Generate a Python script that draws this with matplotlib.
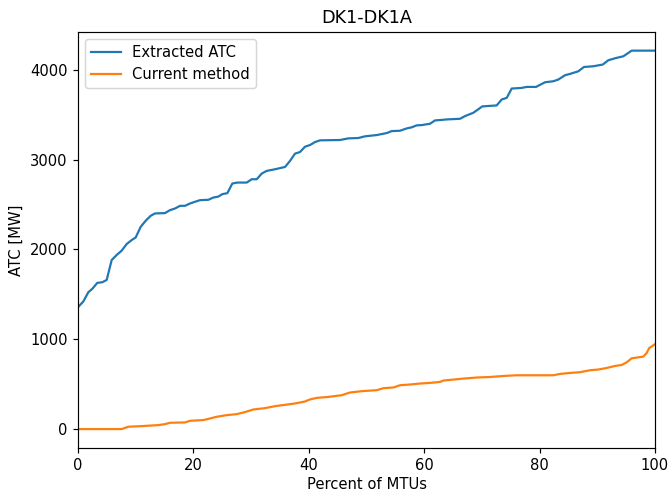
import numpy as np
import matplotlib
matplotlib.use("Agg")
import matplotlib.pyplot as plt

# values (percent of MTUs, MW)
atc_pct = [0.0, 0.92, 1.79, 2.48, 3.34, 4.21, 4.97, 5.84, 6.71, 7.57, 8.44, 9.31,
           10.0, 10.87, 11.73, 12.6, 13.34, 15.08, 15.94, 16.81, 17.68, 18.54,
           19.41, 20.28, 21.14, 22.58, 23.45, 24.32, 25.01, 25.88, 26.74, 27.61,
           29.24, 30.10, 30.97, 31.84, 32.70, 34.14, 35.88, 36.74, 37.61, 38.47,
           39.34, 40.21, 41.07, 41.94, 45.41, 46.85, 48.58, 49.74, 51.77, 53.50,
           54.37, 55.81, 56.97, 57.83, 58.70, 59.57, 61.01, 61.87, 62.74, 63.90,
           66.20, 67.07, 68.51, 70.07, 72.56, 73.43, 74.30, 75.16, 76.90, 77.76,
           79.38, 80.94, 82.37, 83.24, 84.40, 85.27, 86.71, 87.69, 89.31, 90.94,
           91.91, 93.24, 94.51, 95.96, 100.0]
atc_mw = [1357, 1421, 1524, 1562, 1628, 1635, 1661, 1883, 1939, 1987, 2061, 2105,
          2134, 2253, 2320, 2375, 2401, 2405, 2438, 2456, 2486, 2486,
          2512, 2531, 2549, 2553, 2578, 2589, 2616, 2627, 2734, 2745,
          2745, 2782, 2782, 2845, 2875, 2893, 2919, 2986, 3067, 3085,
          3144, 3163, 3196, 3215, 3219, 3237, 3241, 3260, 3274, 3296,
          3318, 3322, 3348, 3360, 3382, 3385, 3400, 3437, 3441, 3448,
          3455, 3485, 3522, 3593, 3604, 3670, 3688, 3792, 3799, 3810,
          3810, 3862, 3873, 3892, 3940, 3955, 3984, 4032, 4040, 4059,
          4107, 4132, 4151, 4214, 4214]

cur_pct = [0.0, 7.57, 8.72, 11.04, 13.92, 15.08, 15.94, 18.54, 19.41, 21.72,
           22.88, 24.04, 25.77, 27.5, 28.94, 30.38, 32.41, 34.14, 35.88, 37.61,
           39.34, 40.21, 41.37, 43.38, 45.70, 47.14, 49.17, 51.77, 52.91, 54.65,
           55.81, 57.54, 59.27, 61.01, 62.74, 63.31, 65.05, 66.78, 69.10, 71.40,
           73.71, 76.03, 82.37, 83.54, 85.27, 87.0, 88.73, 90.17, 91.63, 93.07,
           94.23, 95.10, 95.96, 96.83, 97.97, 98.56, 99.0, 100.0]
cur_mw = [0, 0, 26, 33, 44, 55, 70, 74, 92, 100,
          118, 137, 155, 166, 189, 218, 233, 255, 270, 285,
          307, 330, 347, 358, 377, 407, 422, 433, 455, 463,
          488, 496, 507, 514, 525, 540, 551, 562, 574, 580,
          591, 599, 599, 614, 625, 633, 655, 663, 680, 703,
          714, 744, 788, 796, 807, 847, 902, 945]

dpi = 106
fig = plt.figure(figsize=(672 / dpi, 491 / dpi), dpi=dpi)
ax = fig.add_axes([0.1161, 0.0876, 0.8586, 0.8478])
ax.plot(atc_pct, atc_mw, label="Extracted ATC")
ax.plot(cur_pct, cur_mw, label="Current method")
ax.set_xlim(0, 100)
ax.set_xlabel("Percent of MTUs", labelpad=2.5)
ax.set_ylabel("ATC [MW]")
ax.set_title("DK1-DK1A")
ax.legend(loc="upper left")
fig.savefig("out.png", dpi=dpi)
